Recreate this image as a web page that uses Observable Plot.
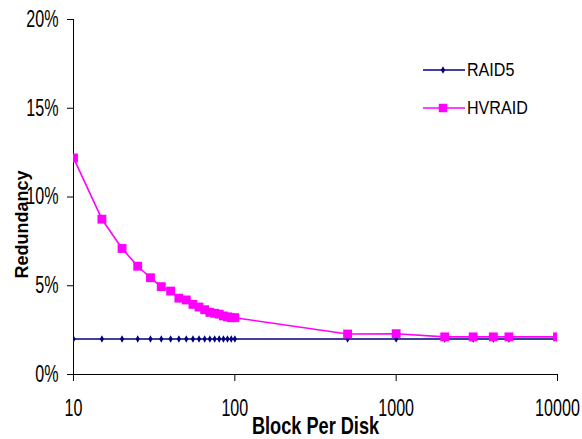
<!DOCTYPE html>
<html>
<head>
<meta charset="utf-8">
<script src="https://cdn.jsdelivr.net/npm/d3@7"></script>
<script src="https://cdn.jsdelivr.net/npm/@observablehq/plot@0.6"></script>
<style>
  html, body { margin: 0; padding: 0; background: #fff; }
  #wrap { position: relative; width: 582px; height: 439px; }
  #legend { position: absolute; left: 0; top: 0; }
</style>
</head>
<body>
<div id="wrap"></div>
<script>
// Block-per-disk values
const raidX = [10, 15, 20, 25, 30, 35, 40, 45, 50, 55, 60, 65, 70, 75, 80, 85, 90, 95, 100, 500, 1000, 2000, 3000, 4000, 5000, 10000];
const raidY = [2, 2, 2, 2, 2, 2, 2, 2, 2, 2, 2, 2, 2, 2, 2, 2, 2, 2, 2, 2, 2, 2, 2, 2, 2, 2];
// HVRAID (first point lies left of the visible axis, clipped as in the original)
const hvX = [5, 10, 15, 20, 25, 30, 35, 40, 45, 50, 55, 60, 65, 70, 75, 80, 85, 90, 95, 100, 500, 1000, 2000, 3000, 4000, 5000, 10000];
const hvY = [22, 12.2, 8.75, 7.1, 6.1, 5.45, 4.95, 4.7, 4.3, 4.2, 3.95, 3.8, 3.65, 3.5, 3.45, 3.4, 3.3, 3.25, 3.2, 3.2, 2.28, 2.3, 2.12, 2.12, 2.12, 2.12, 2.12];
const xTicks = [10, 100, 1000, 10000];
const yTicks = [0, 5, 10, 15, 20];
const seriesNames = ["RAID5", "HVRAID"];
const seriesColors = ["#000080", "#FF00FF"];
const xTitle = "Block Per Disk";
const yTitle = "Redundancy";

const raid = raidX.map((x, i) => ({x, y: raidY[i]}));
const hv = hvX.map((x, i) => ({x, y: hvY[i]}));

const font = "'Liberation Sans', Arial, sans-serif";

const chart = Plot.plot({
  width: 582,
  height: 439,
  marginLeft: 73,
  marginRight: 25,
  marginTop: 19,
  marginBottom: 65,
  style: {fontFamily: font, fontSize: "23px", color: "#000", background: "#fff"},
  x: {type: "log", domain: [10, 10000]},
  y: {domain: [0, 20]},
  marks: [
    Plot.axisX({ticks: xTicks, tickFormat: d => String(d), tickSize: 7, tickPadding: 18, label: null, stroke: "#000"}),
    Plot.axisY({ticks: yTicks, tickFormat: d => d + "%", tickSize: 6, tickPadding: 9, label: null, stroke: "#000"}),
    Plot.ruleY([0], {stroke: "#000", strokeWidth: 1}),
    Plot.ruleX([10], {stroke: "#000", strokeWidth: 1}),
    Plot.line(raid, {x: "x", y: "y", stroke: seriesColors[0], strokeWidth: 1.6, clip: true}),
    Plot.dot(raid, {x: "x", y: "y", symbol: "diamond", r: 2.2, fill: seriesColors[0], stroke: "none", clip: true}),
    Plot.line(hv, {x: "x", y: "y", stroke: seriesColors[1], strokeWidth: 1.6, clip: true}),
    Plot.dot(hv, {x: "x", y: "y", symbol: "square", r: 5, fill: seriesColors[1], stroke: "none", clip: true}),
    Plot.text([xTitle], {frameAnchor: "bottom", lineAnchor: "middle", dy: 52, fontWeight: "bold", fontSize: 23, fill: "#000"}),
    Plot.text([yTitle], {frameAnchor: "left", rotate: -90, lineAnchor: "top", textAnchor: "middle", dx: -58, dy: 27.5, fontWeight: "bold", fontSize: 18, fill: "#000"})
  ]
});
document.getElementById("wrap").appendChild(chart);

// Legend overlay
const leg = d3.select("#wrap").append("svg")
  .attr("id", "legend").attr("width", 582).attr("height", 439)
  .style("font-family", font).style("font-size", "18.5px");
const rows = [{y: 70, sym: d3.symbolDiamond, size: 16}, {y: 108, sym: d3.symbolSquare, size: 72}];
seriesNames.forEach((name, i) => {
  const r = rows[i];
  const g = leg.append("g");
  g.append("line").attr("x1", 423).attr("x2", 465).attr("y1", r.y).attr("y2", r.y)
    .attr("stroke", seriesColors[i]).attr("stroke-width", 1.6);
  g.append("path").attr("d", d3.symbol(r.sym, r.size)()).attr("transform", `translate(443,${r.y})`)
    .attr("fill", seriesColors[i]);
  g.append("text").attr("x", 467).attr("y", r.y).attr("dy", "0.35em").attr("fill", "#000").text(name);
});

// The original uses a horizontally condensed face: squeeze glyphs around each text's anchor
function condense(node, k, skip) {
  d3.select(node).selectAll("text").each(function() {
    if (skip.includes(this.textContent)) return;
    const t = d3.select(this);
    const x = +t.attr("x") || 0, y = +t.attr("y") || 0;
    const tr = t.attr("transform") || "";
    const kk = this.textContent === xTitle ? 0.79 : k;
    t.attr("transform", `${tr} translate(${x},${y}) scale(${kk},1) translate(${-x},${-y})`);
  });
}
condense(chart, 0.7, [yTitle]);
condense(leg.node(), 0.87, []);
</script>
</body>
</html>
